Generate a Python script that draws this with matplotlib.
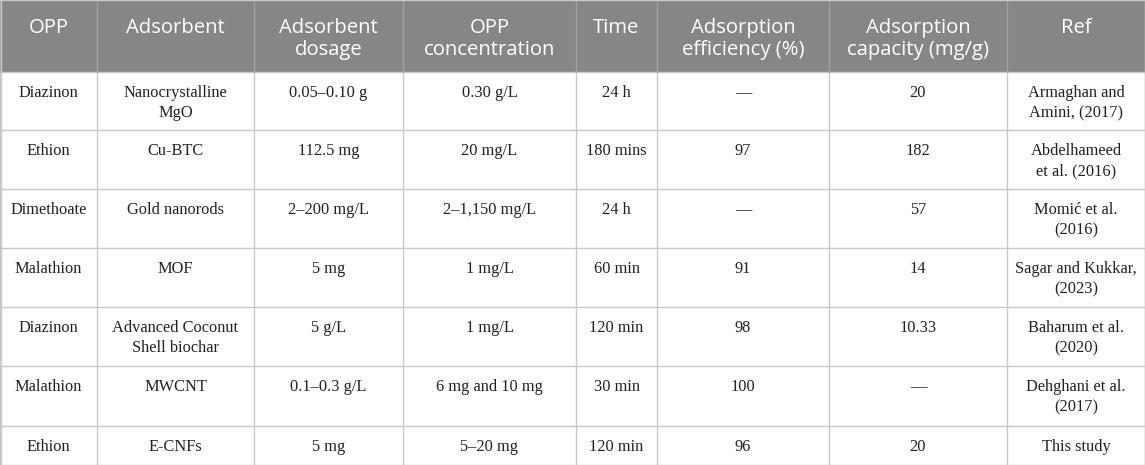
import matplotlib
matplotlib.use("Agg")
import matplotlib.pyplot as plt
from matplotlib.patches import Rectangle

headers = ["OPP", "Adsorbent", "Adsorbent\ndosage", "OPP\nconcentration", "Time",
           "Adsorption\nefficiency (%)", "Adsorption\ncapacity (mg/g)", "Ref"]
opp = ["Diazinon", "Ethion", "Dimethoate", "Malathion", "Diazinon", "Malathion", "Ethion"]
adsorbent = ["Nanocrystalline\nMgO", "Cu-BTC", "Gold nanorods", "MOF",
             "Advanced Coconut\nShell biochar", "MWCNT", "E-CNFs"]
dosage = ["0.05–0.10 g", "112.5 mg", "2–200 mg/L", "5 mg", "5 g/L", "0.1–0.3 g/L", "5 mg"]
concentration = ["0.30 g/L", "20 mg/L", "2–1,150 mg/L", "1 mg/L", "1 mg/L", "6 mg and 10 mg", "5–20 mg"]
time = ["24 h", "180 mins", "24 h", "60 min", "120 min", "30 min", "120 min"]
efficiency = ["—", "97", "—", "91", "98", "100", "96"]
capacity = ["20", "182", "57", "14", "10.33", "—", "20"]
refs = ["Armaghan and\nAmini, (2017)", "Abdelhameed\net al. (2016)", "Momić et al.\n(2016)",
        "Sagar and Kukkar,\n(2023)", "Baharum et al.\n(2020)", "Dehghani et al.\n(2017)", "This study"]

columns = [opp, adsorbent, dosage, concentration, time, efficiency, capacity, refs]

W, H = 1145, 465
col_edges = [0, 97, 254, 403, 576, 657, 829, 1007, 1145]
row_edges = [0, 72, 130, 189, 248, 307, 366, 426, 465]

fig = plt.figure(figsize=(W / 100, H / 100), dpi=100)
ax = fig.add_axes([0, 0, 1, 1])
ax.set_xlim(0, W)
ax.set_ylim(H, 0)
ax.axis("off")

header_bg = "#868686"
grid = "#c9c9c9"
ax.add_patch(Rectangle((0, 0), W, row_edges[1], facecolor=header_bg, edgecolor="none", zorder=1))

# grid lines
for y in row_edges[1:]:
    ax.plot([0, W], [y, y], color=grid, lw=1.0, zorder=2, solid_capstyle="butt")
for x in col_edges:
    ax.plot([x, x], [row_edges[1], H], color=grid, lw=1.0, zorder=2, solid_capstyle="butt")
    ax.plot([x, x], [0, row_edges[1]], color="#a2a2a2", lw=1.0, zorder=2, solid_capstyle="butt")
ax.plot([0, W], [0.5, 0.5], color=grid, lw=1.0, zorder=2)
ax.plot([0.5, 0.5], [0, H], color=grid, lw=1.0, zorder=2)
ax.plot([W - 0.5, W - 0.5], [0, H], color=grid, lw=1.0, zorder=2)

# header text
for i, h in enumerate(headers):
    cx = (col_edges[i] + col_edges[i + 1]) / 2
    for k, line in enumerate(h.split("\n")):
        ax.text(cx, 33 + k * 22, line, ha="center", va="baseline", color="white",
                family="Open Sans", fontsize=14.6, zorder=3)

# body text
for i, col in enumerate(columns):
    cx = (col_edges[i] + col_edges[i + 1]) / 2
    for r, val in enumerate(col):
        top = row_edges[r + 1]
        for k, line in enumerate(val.split("\n")):
            ax.text(cx, top + 25 + k * 20, line, ha="center", va="baseline", color="#231f20",
                    family="Liberation Serif", fontsize=11.8, zorder=3)

fig.savefig("out.png", dpi=100, facecolor="white")
